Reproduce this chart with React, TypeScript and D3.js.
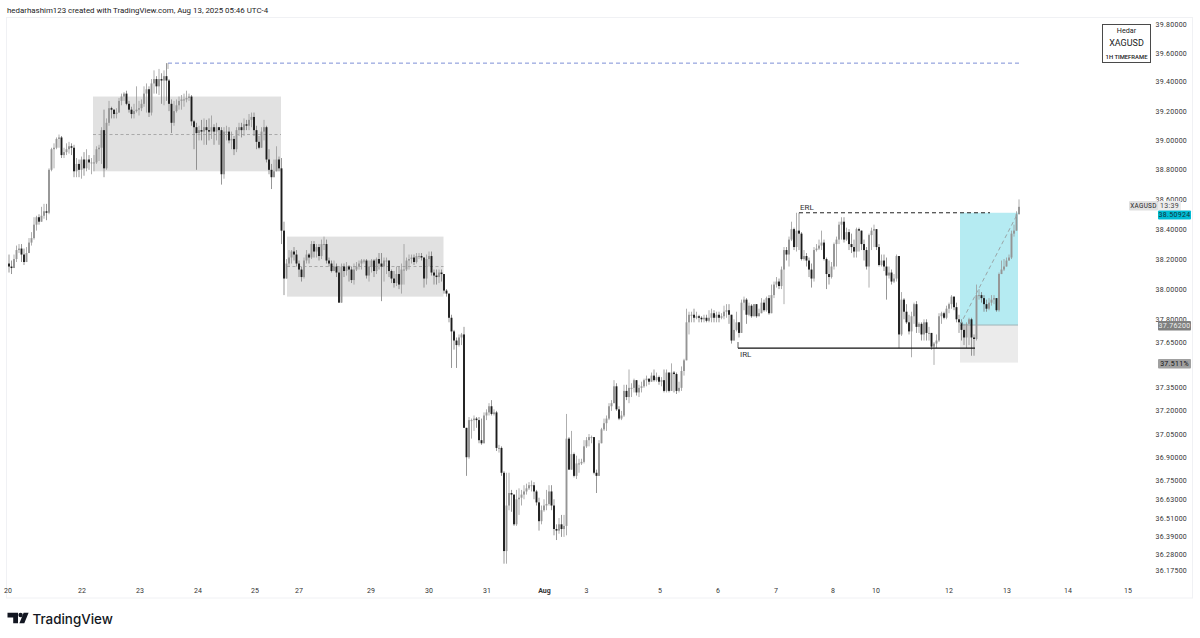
import React from "react";
import * as d3 from "d3";

// Flat close, high, low triples (open = previous close), grouped by stretch of the chart
const jul20to22 = [
38.15,38.23,38.11, 38.14,38.19,38.10, 38.20,38.23,38.15, 38.26,38.29,38.18, 38.27,38.30,38.24,
38.23,38.30,38.18, 38.18,38.27,38.16, 38.24,38.28,38.18, 38.31,38.34,38.26, 38.34,38.38,38.29,
38.43,38.48,38.33, 38.48,38.49,38.39, 38.45,38.50,38.43, 38.49,38.55,38.47, 38.52,38.57,38.47,
38.51,38.57,38.46, 38.80,38.81,38.50, 38.94,38.95,38.79, 38.95,38.98,38.81, 39.01,39.02,38.94,
39.02,39.04,38.95, 38.90,39.03,38.88, 38.92,38.95,38.88, 38.94,38.98,38.90, 38.96,38.99,38.91,
38.95,38.98,38.90, 38.79,38.97,38.75, 38.84,38.88,38.75, 38.80,38.87,38.75, 38.87,38.89,38.74,
38.81,38.92,38.76, 38.87,38.94,38.79, 38.85,38.90,38.80, 38.85,38.88,38.77, 38.85,38.90,38.79,
38.94,38.96,38.84, 38.95,38.97,38.86];
const jul22to23 = [
39.07,39.09,38.84, 38.81,39.21,38.75, 39.12,39.15,38.80, 39.22,39.27,39.10, 39.21,39.23,39.15,
39.18,39.21,39.15, 39.19,39.22,39.15, 39.27,39.29,39.19, 39.30,39.32,39.24, 39.32,39.33,39.27,
39.25,39.34,39.24, 39.21,39.27,39.19, 39.18,39.23,39.15, 39.20,39.25,39.15, 39.21,39.37,39.19,
39.22,39.27,39.17, 39.25,39.28,39.20, 39.32,39.37,39.23, 39.35,39.39,39.19, 39.19,39.37,39.16,
39.39,39.42,39.17, 39.42,39.48,39.32, 39.37,39.44,39.32, 39.42,39.49,39.31, 39.41,39.46,39.25,
39.44,39.48,39.24, 39.41,39.53,39.27];
const jul23to25 = [
39.25,39.42,39.20, 39.12,39.28,39.05, 39.20,39.27,39.10, 39.24,39.28,39.19, 39.27,39.30,39.21,
39.28,39.31,39.21, 39.28,39.32,39.23, 39.29,39.34,39.26, 39.30,39.32,39.27, 39.13,39.31,39.10,
39.09,39.14,38.94, 39.05,39.12,38.80, 39.07,39.10,39.00, 39.06,39.14,39.00, 39.09,39.15,38.97,
39.07,39.14,38.97, 39.06,39.15,39.00, 39.09,39.17,39.01, 39.06,39.11,38.97, 39.09,39.12,39.00,
39.07,39.09,38.97, 38.77,39.09,38.70, 39.06,39.09,38.74, 39.06,39.10,39.00, 39.00,39.09,38.98,
39.01,39.06,38.94, 38.94,39.03,38.90, 39.07,39.09,38.92, 39.09,39.12,39.03, 39.07,39.12,39.02,
39.11,39.15,39.03, 39.10,39.14,39.07, 39.14,39.18,39.07, 39.16,39.19,39.09, 39.07,39.19,39.03,
38.99,39.10,38.94, 38.95,39.03,38.94, 39.06,39.09,38.95, 39.09,39.14,39.00, 38.87,39.10,38.85,
38.80,38.94,38.77, 38.75,38.84,38.67, 38.79,38.87,38.76, 38.87,38.96,38.79, 38.81,38.89,38.79,
38.39,38.88,38.30, 38.07,38.45,37.96];
const jul27to30 = [
38.17,38.20,38.07, 38.21,38.26,38.15, 38.25,38.26,38.17, 38.23,38.28,38.19, 38.17,38.26,38.15,
38.13,38.19,38.08, 38.08,38.15,38.05, 38.19,38.21,38.07, 38.23,38.26,38.17, 38.21,38.24,38.17,
38.30,38.32,38.20, 38.25,38.32,38.21, 38.28,38.30,38.21, 38.22,38.30,38.19, 38.30,38.33,38.20,
38.30,38.35,38.26, 38.19,38.33,38.17, 38.17,38.21,38.15, 38.12,38.19,38.11, 38.15,38.19,38.12,
38.11,38.17,38.08, 37.91,38.15,37.91, 38.15,38.17,37.91, 38.12,38.17,38.08, 38.15,38.18,38.09,
38.13,38.16,38.05, 38.06,38.15,38.04, 38.13,38.17,38.03, 38.15,38.18,38.12, 38.17,38.19,38.13,
38.19,38.20,38.13, 38.19,38.20,38.17, 38.09,38.20,38.07, 38.15,38.19,38.05, 38.19,38.20,38.11,
38.12,38.20,38.08, 38.20,38.21,38.10, 38.17,38.24,38.13, 38.15,38.24,37.92, 38.19,38.21,38.05,
38.19,38.21,38.10, 38.12,38.19,38.08, 38.07,38.13,38.04, 38.04,38.12,38.01, 38.10,38.15,38.02,
38.03,38.15,38.00, 38.13,38.17,37.97, 38.13,38.30,38.03, 38.19,38.21,38.12, 38.20,38.23,38.13,
38.21,38.23,38.17, 38.18,38.23,38.16, 38.22,38.24,38.17, 38.22,38.24,38.20, 38.21,38.24,38.19,
38.07,38.21,38.01, 38.20,38.23,38.03, 38.22,38.25,38.15, 38.11,38.25,38.09, 38.09,38.13,38.03,
38.08,38.13,38.03, 38.11,38.13,38.04, 38.10,38.13,38.05];
const jul30to31 = [
37.99,38.10,37.97, 37.97,38.00,37.95, 37.81,37.97,37.78, 37.72,37.83,37.48, 37.66,37.73,37.60,
37.63,37.68,37.48, 37.68,37.70,37.62, 37.70,37.71,37.63, 37.09,37.75,37.09, 36.90,37.08,36.78,
37.14,37.16,36.89, 37.14,37.15,37.02, 37.15,37.17,37.07, 37.14,37.16,37.09, 37.01,37.16,36.99,
36.99,37.15,36.98, 37.17,37.19,36.99, 37.19,37.21,37.14, 37.23,37.25,37.17, 37.18,37.27,37.17,
37.19,37.21,37.17, 36.96,37.20,36.94, 36.96,36.98,36.93, 36.80,36.97,36.78, 36.30,36.81,36.22];
const jul31toAug1 = [
36.59,36.80,36.22, 36.67,36.80,36.56, 36.66,36.69,36.55, 36.47,36.66,36.46, 36.63,36.69,36.46,
36.64,36.70,36.53, 36.66,36.69,36.59, 36.68,36.72,36.63, 36.70,36.73,36.66, 36.72,36.74,36.69,
36.72,36.75,36.68, 36.68,36.74,36.63, 36.61,36.69,36.59, 36.49,36.64,36.43, 36.56,36.59,36.47,
36.59,36.63,36.55, 36.60,36.69,36.56, 36.68,36.72,36.59, 36.59,36.72,36.56, 36.44,36.63,36.40,
36.43,36.47,36.37, 36.47,36.51,36.41, 36.44,36.53,36.39, 36.46,36.53,36.39, 37.02,37.18,36.40];
const aug1to5 = [
36.82,37.03,36.82, 36.92,37.07,36.85, 36.78,36.93,36.77, 36.86,36.91,36.76, 36.86,36.89,36.80,
36.87,36.89,36.85, 36.97,37.01,36.86, 37.01,37.03,36.96, 37.03,37.05,36.97, 37.03,37.04,36.99,
36.80,37.03,36.79, 36.78,36.82,36.67, 36.99,37.01,36.78, 37.08,37.09,36.99, 37.12,37.15,37.07,
37.15,37.17,37.07, 37.23,37.25,37.14, 37.25,37.27,37.20, 37.36,37.40,37.25, 37.21,37.38,37.20,
37.15,37.23,37.14, 37.17,37.20,37.14, 37.33,37.37,37.16, 37.29,37.37,37.27, 37.35,37.47,37.25,
37.35,37.38,37.29, 37.40,37.41,37.32, 37.32,37.40,37.30, 37.35,37.37,37.29, 37.36,37.39,37.32,
37.40,37.41,37.35, 37.41,37.43,37.36, 37.39,37.41,37.37, 37.43,37.45,37.39, 37.40,37.47,37.39,
37.42,37.45,37.39, 37.39,37.43,37.37, 37.40,37.42,37.36, 37.33,37.47,37.32, 37.45,37.47,37.32,
37.33,37.45,37.32, 37.45,37.51,37.33, 37.44,37.46,37.32, 37.33,37.45,37.31, 37.35,37.39,37.32,
37.46,37.49,37.33, 37.53,37.54,37.43, 37.78,37.87,37.53];
const aug5to6 = [
37.83,37.85,37.70, 37.83,37.85,37.78, 37.81,37.87,37.78, 37.82,37.85,37.80, 37.81,37.83,37.78,
37.80,37.82,37.78, 37.81,37.83,37.78, 37.79,37.83,37.78, 37.81,37.86,37.78, 37.84,37.87,37.78,
37.81,37.86,37.78, 37.83,37.85,37.78, 37.81,37.85,37.78, 37.82,37.84,37.80, 37.85,37.89,37.80,
37.86,37.90,37.81, 37.83,37.90,37.77, 37.66,37.83,37.64, 37.73,37.80,37.67, 37.78,37.85,37.72,
37.71,37.73,37.68, 37.91,37.93,37.71, 37.93,37.95,37.86, 37.83,37.94,37.77, 37.89,37.91,37.82,
37.82,37.90,37.81, 37.90,37.90,37.82, 37.82,37.90,37.81, 37.84,37.87,37.82, 37.91,37.94,37.86,
37.86,37.93,37.85, 37.94,37.95,37.85, 37.84,37.96,37.83, 37.96,38.03,37.84, 38.03,38.05,37.94,
38.05,38.08,38.01, 38.02,38.07,38.00];
const aug6to10 = [
38.13,38.15,38.00, 38.26,38.28,37.90, 38.23,38.28,38.19, 38.33,38.35,38.15, 38.40,38.45,38.32,
38.28,38.41,38.26, 38.39,38.51,38.25, 38.37,38.51,38.26, 38.20,38.38,38.19, 38.22,38.26,38.19,
38.19,38.24,38.15, 38.13,38.21,38.08, 38.07,38.17,38.01, 38.26,38.28,38.05, 38.27,38.30,38.25,
38.29,38.33,38.26, 38.31,38.39,38.26, 38.20,38.33,38.19, 38.10,38.21,38.00, 38.08,38.19,38.03,
38.15,38.18,38.07, 38.30,38.31,38.13, 38.33,38.35,38.15, 38.43,38.45,38.30, 38.45,38.48,38.33,
38.33,38.48,38.31, 38.38,38.41,38.32, 38.30,38.40,38.26, 38.28,38.37,38.24, 38.25,38.33,38.21,
38.40,38.41,38.21, 38.39,38.41,38.25, 38.30,38.39,38.26, 38.26,38.33,38.19, 38.15,38.28,38.13,
38.36,38.37,38.01, 38.39,38.41,38.26, 38.40,38.43,38.28, 38.28,38.40,38.26, 38.16,38.30,38.15,
38.19,38.23,38.15, 38.15,38.23,38.12, 38.09,38.21,37.93, 38.11,38.15,38.07, 38.05,38.13,38.03,
38.07,38.10,38.04, 38.22,38.23,38.05];
const aug10to12 = [
37.70,38.22,37.61, 37.93,37.98,37.69, 37.85,37.94,37.80, 37.78,37.90,37.77, 37.72,37.83,37.70,
37.82,37.85,37.55, 37.90,37.91,37.77, 37.75,37.92,37.71, 37.77,37.78,37.71, 37.70,37.78,37.66,
37.78,37.80,37.66, 37.71,37.80,37.66, 37.71,37.75,37.66, 37.62,37.71,37.60, 37.64,37.65,37.50,
37.66,37.70,37.61, 37.82,37.84,37.65, 37.84,37.85,37.77, 37.81,37.85,37.80, 37.87,37.89,37.80,
37.90,37.91,37.84, 37.95,37.96,37.87, 37.88,37.95,37.86, 37.80,37.91,37.78, 37.78,37.83,37.71,
37.73,37.80,37.66, 37.68,37.77,37.63, 37.77,37.78,37.61, 37.80,37.81,37.63, 37.68,37.81,37.56,
37.67,37.70,37.56];
const aug12to13 = [
37.96,38.03,37.66, 37.96,38.00,37.93, 37.94,37.98,37.91, 37.90,37.96,37.85, 37.87,37.93,37.85,
37.91,37.94,37.86, 37.93,37.96,37.89, 37.94,37.96,37.90, 37.86,37.94,37.85, 38.10,38.11,37.85,
38.13,38.19,38.10, 38.15,38.20,38.12, 38.19,38.21,38.15, 38.21,38.23,38.19, 38.37,38.39,38.20,
38.39,38.43,38.35, 38.50,38.52,38.40, 38.55,38.60,38.52];

const priceTicks = [39.8, 39.6, 39.4, 39.2, 39.0, 38.8, 38.6, 38.4, 38.2, 38.0, 37.8, 37.65, 37.35, 37.2, 37.05, 36.9, 36.75, 36.63, 36.51, 36.39, 36.28, 36.175];
const timeLabels = ["20", "22", "23", "24", "25", "27", "29", "30", "31", "Aug", "3", "5", "6", "7", "8", "10", "12", "13", "14", "15"];
const timeBars = [-0.4, 29.2, 52.4, 75.6, 98.4, 116, 144.8, 168, 191.2, 214.2, 231, 260.4, 283.6, 306.8, 329.6, 346.8, 376, 399.2, 423.6, 447.6];

const zone1 = { from: 33.6, to: 108.8, top: 39.3, bottom: 38.79, mid: 39.04 };
const zone2 = { from: 111.2, to: 173.8, top: 38.35, bottom: 37.95, mid: 38.15 };
const highLevel = { from: 63.6, to: 404.8, price: 39.53 };
const erl = { from: 316, to: 392.4, price: 38.51 };
const irl = { from: 291.6, to: 386.4, price: 37.61, foot: 37.65 };
const position = { from: 380.4, to: 403.6, target: 38.51, entry: 37.762, stop: 37.515 };

const lastPrice = "38.50924";
const entryLabel = "37.76200";
const stopLabel = "37.511%";
const WIDTH = 1200;
const HEIGHT = 638;
const FONT = "Roboto, 'Liberation Sans', sans-serif";

const flat = [...jul20to22, ...jul22to23, ...jul23to25, ...jul27to30, ...jul30to31, ...jul31toAug1, ...aug1to5, ...aug5to6, ...aug6to10, ...aug10to12, ...aug12to13];
const candles = d3.range(0, Math.floor(flat.length / 3)).map((i) => {
  const c = flat[i * 3];
  const prev = i > 0 ? flat[(i - 1) * 3] : c + 0.02;
  return { i, o: prev, c, h: Math.max(flat[i * 3 + 1], c, prev), l: Math.min(flat[i * 3 + 2], c, prev) };
});

const x = d3.scaleLinear().domain([0, 100]).range([9, 259]);
const y = d3.scaleLog().domain([39.6, 36.17]).range([53, 571.6]);

function Labelled({ x0, y0, w, h, fill, color, text, size = 7 }: any) {
  return (
    <g>
      <rect x={x0} y={y0} width={w} height={h} rx={1} fill={fill} />
      <text x={x0 + w / 2} y={y0 + h / 2 + 2.4} fontSize={size} textAnchor="middle" fill={color} letterSpacing={0.3}>{text}</text>
    </g>
  );
}

export default function App() {
  return (
    <svg width={WIDTH} height={HEIGHT} viewBox={`0 0 ${WIDTH} ${HEIGHT}`} style={{ position: "absolute", left: 0, top: 0, background: "#fff" }} fontFamily={FONT}>
      <text x={7} y={12.5} fontSize={7.9} fill="#222">hedarhashim123 created with TradingView.com, Aug 13, 2025 05:46 UTC-4</text>
      <rect x={6.5} y={17.5} width={1186} height={580.5} fill="none" stroke="#f0f1f4" />

      {[zone1, zone2].map((z, k) => (
        <g key={k}>
          <rect x={x(z.from)} y={y(z.top)} width={x(z.to) - x(z.from)} height={y(z.bottom) - y(z.top)} fill="#e1e1e1" />
          <line x1={x(z.from)} x2={x(z.to)} y1={y(z.mid)} y2={y(z.mid)} stroke="#999" strokeWidth={0.8} strokeDasharray="3 2.5" />
        </g>
      ))}

      <rect x={x(position.from)} y={y(position.target)} width={x(position.to) - x(position.from)} height={y(position.entry) - y(position.target)} fill="#b5ebf2" />
      <rect x={x(position.from)} y={y(position.entry)} width={x(position.to) - x(position.from)} height={y(position.stop) - y(position.entry)} fill="#ebebeb" />
      <line x1={x(position.from)} x2={x(position.to)} y1={y(position.entry)} y2={y(position.entry)} stroke="#9fb5b8" strokeWidth={1} />

      <line x1={x(highLevel.from)} x2={x(highLevel.to)} y1={y(highLevel.price)} y2={y(highLevel.price)} stroke="#7d8fd6" strokeWidth={1} strokeDasharray="4 3" />
      <line x1={x(highLevel.from)} x2={x(highLevel.from)} y1={y(highLevel.price)} y2={y(39.49)} stroke="#999" strokeWidth={0.8} />

      {candles.map((d) => {
        const up = d.c >= d.o;
        const top = y(Math.max(d.o, d.c));
        const bot = y(Math.min(d.o, d.c));
        return (
          <g key={d.i}>
            <line x1={x(d.i)} x2={x(d.i)} y1={y(d.h)} y2={y(d.l)} stroke={up ? "#999" : "#7c7c7c"} strokeWidth={0.8} />
            <rect x={x(d.i) - 0.95} y={top} width={1.9} height={Math.max(bot - top, 1)} fill={up ? "#959595" : "#1c1c1c"} />
          </g>
        );
      })}

      <line x1={x(position.from)} y1={y(position.entry)} x2={x(position.to)} y2={y(position.target)} stroke="#9aa5a7" strokeWidth={1} strokeDasharray="4 3" />

      <line x1={x(erl.from)} x2={x(erl.to)} y1={y(erl.price)} y2={y(erl.price)} stroke="#222" strokeWidth={1} strokeDasharray="4 3" />
      <text x={x(erl.from) + 1} y={y(erl.price) - 3} fontSize={8} fill="#333">ERL</text>
      <line x1={x(irl.from)} x2={x(irl.to)} y1={y(irl.price)} y2={y(irl.price)} stroke="#111" strokeWidth={1.4} />
      <line x1={x(irl.from)} x2={x(irl.from)} y1={y(irl.price)} y2={y(irl.foot)} stroke="#333" strokeWidth={0.8} />
      <text x={x(irl.from) + 2} y={y(irl.price) + 9} fontSize={8} fill="#333">IRL</text>

      <rect x={1102.5} y={24.5} width={48} height={38} fill="#fff" stroke="#4a4a4a" />
      <text x={1126.5} y={32.5} fontSize={7.2} textAnchor="middle" fill="#222">Hedar</text>
      <text x={1126.5} y={46} fontSize={9} textAnchor="middle" fill="#222">XAGUSD</text>
      <text x={1126.5} y={59} fontSize={5.9} textAnchor="middle" fill="#222" fontWeight={500}>1H TIMEFRAME</text>

      {priceTicks.map((t) => (
        <text key={t} x={1187} y={y(t) + 2.5} fontSize={7} textAnchor="end" fill="#333" letterSpacing={0.25}>{t.toFixed(5)}</text>
      ))}

      <Labelled x0={1129} y0={201} w={29} h={9.5} fill="#e0e0e0" color="#222" text="XAGUSD" size={6.4} />
      <Labelled x0={1158} y0={201} w={23} h={9.5} fill="#ececec" color="#444" text="13:39" />
      <Labelled x0={1158} y0={210.5} w={33} h={9} fill="#00bcd4" color="#12323a" text={lastPrice} />
      <Labelled x0={1158} y0={321} w={33} h={9.5} fill="#808080" color="#eee" text={entryLabel} />
      <Labelled x0={1158} y0={359} w={33} h={9.5} fill="#a0a0a0" color="#111" text={stopLabel} />

      {timeLabels.map((t, k) => (
        <text key={t} x={x(timeBars[k])} y={592.5} fontSize={7} textAnchor="middle" fill="#333" fontWeight={t === "Aug" ? 700 : 400}>{t}</text>
      ))}

      <g fill="#131722">
        <path d="M7.5 612.7 H18 V623.2 H13.2 V617.4 H7.5 Z" />
        <circle cx={20.6} cy={615} r={2.2} />
        <path d="M23.6 612.7 H28.6 L24.3 623.2 H19.4 Z" />
        <text x={32.5} y={623.5} fontSize={13.4} fontFamily="Inter, Roboto, sans-serif" fontWeight={500}>TradingView</text>
      </g>
    </svg>
  );
}
